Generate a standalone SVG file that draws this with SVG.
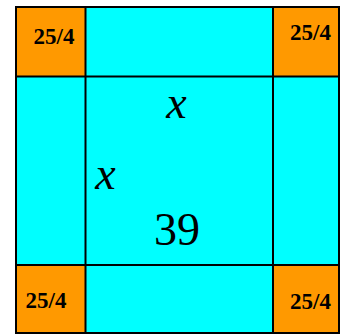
<svg xmlns="http://www.w3.org/2000/svg" width="343" height="335" viewBox="0 0 343 335">
<style>
.cy{fill:#00FFFF;stroke:none}
.or{fill:#FF9900;stroke:none}
.ln{stroke:#000;stroke-width:2;fill:none}
.lbl{font-family:"Liberation Serif","Times New Roman",serif;font-weight:bold;font-size:23px;fill:#000;text-anchor:middle}
.var{font-family:"Liberation Serif","Times New Roman",serif;font-style:italic;font-size:46px;fill:#000;text-anchor:middle}
.num{font-family:"Liberation Serif","Times New Roman",serif;font-size:46px;fill:#000;text-anchor:middle}
</style>
<rect width="343" height="335" fill="#fff"/>
<g id="center"><rect class="cy" x="16" y="7" width="323" height="326"/>
<text class="var" x="176.5" y="118">x</text>
<text class="var" x="105.5" y="189">x</text>
<text class="num" x="177" y="245">39</text></g>
<g id="tl"><rect class="or" x="16" y="7" width="69.5" height="69.5"/><text class="lbl" x="54" y="44">25/4</text></g>
<g id="tr"><rect class="or" x="273" y="7" width="66" height="69.5"/><text class="lbl" x="310.5" y="40">25/4</text></g>
<g id="bl"><rect class="or" x="16" y="265" width="69.5" height="68"/><text class="lbl" x="46" y="308">25/4</text></g>
<g id="br"><rect class="or" x="273" y="265" width="66" height="68"/><text class="lbl" x="310.5" y="309">25/4</text></g>
<g id="lines">
<line class="ln" x1="85.5" y1="7" x2="85.5" y2="333"/>
<line class="ln" x1="273" y1="7" x2="273" y2="333"/>
<line class="ln" x1="16" y1="76.5" x2="339" y2="76.5"/>
<line class="ln" x1="16" y1="265" x2="339" y2="265"/>
<rect class="ln" x="16" y="7" width="323" height="326" stroke-width="2.5"/>
</g>
</svg>
